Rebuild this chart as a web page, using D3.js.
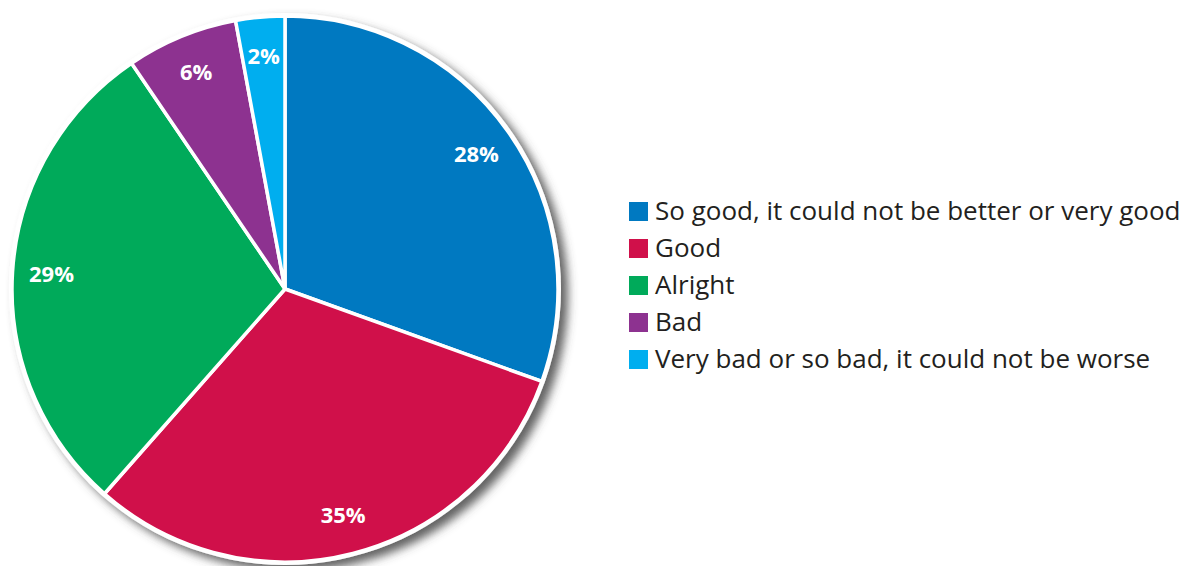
<!DOCTYPE html>
<html>
<head>
<meta charset="utf-8">
<script src="https://cdn.jsdelivr.net/npm/d3@7"></script>
<style>
    body { margin: 0; background: #fff; }
    .slice_label { font-family: "Open Sans", sans-serif; font-weight: bold; fill: #fff; }
    .legend { font-family: "Open Sans", sans-serif; fill: #231f20; }
</style>
</head>
<body>
<div id="Chart_1"></div>
<script>
// answer categories, in drawing order (clockwise from 12 o'clock)
let categories = ["So good, it could not be better or very good", "Good", "Alright", "Bad", "Very bad or so bad, it could not be worse"];
// slice shares as drawn in the picture
let shares = [30.5, 31.0, 29.0, 6.6, 2.9];
// printed labels
let labels = ["28%", "35%", "29%", "6%", "2%"];
let colors = ["#0079c1", "#d0104a", "#00aa5a", "#8d3290", "#00aeef"];

let width = 1183, height = 566;
let cx = 285, cy = 289, radius = 274;

let svg = d3.select("#Chart_1")
    .append("svg")
    .attr("width", width)
    .attr("height", height);

let defs = svg.append("defs");
let filter = defs.append("filter")
    .attr("id", "shadow")
    .attr("x", "-20%").attr("y", "-20%")
    .attr("width", "140%").attr("height", "140%");
filter.append("feDropShadow")
    .attr("dx", 7)
    .attr("dy", 6)
    .attr("stdDeviation", 5)
    .attr("flood-color", "#4a4a4a")
    .attr("flood-opacity", 0.85);

let g = svg.append("g")
    .attr("transform", "translate(" + cx + "," + cy + ")");

// white disc carrying the shadow
g.append("circle")
    .attr("r", radius + 2)
    .attr("fill", "#fff")
    .attr("filter", "url(#shadow)");

let pie = d3.pie().sort(null).value(d => d)(shares);

let arc = d3.arc()
    .innerRadius(0)
    .outerRadius(radius - 1);

g.selectAll("path.slice")
    .data(pie)
    .enter()
    .append("path")
    .attr("class", "slice")
    .attr("d", arc)
    .attr("fill", (d, i) => colors[i])
    .attr("stroke", "#fff")
    .attr("stroke-width", 3.5)
    .attr("stroke-linejoin", "round");

let labelArc = d3.arc()
    .innerRadius(234)
    .outerRadius(234);

g.selectAll("text.slice_label")
    .data(pie)
    .enter()
    .append("text")
    .attr("class", "slice_label")
    .attr("x", d => labelArc.centroid(d)[0])
    .attr("y", d => labelArc.centroid(d)[1])
    .attr("dy", "0.35em")
    .attr("text-anchor", "middle")
    .style("font-size", "22px")
    .text((d, i) => labels[i]);

// legend
let legendY = d3.scalePoint()
    .domain(categories)
    .range([211, 359]);

let legend = svg.append("g");

legend.selectAll("rect")
    .data(categories)
    .enter()
    .append("rect")
    .attr("x", 629)
    .attr("y", d => legendY(d) - 9)
    .attr("width", 19)
    .attr("height", 19)
    .attr("fill", (d, i) => colors[i]);

legend.selectAll("text")
    .data(categories)
    .enter()
    .append("text")
    .attr("class", "legend")
    .attr("x", 655)
    .attr("y", d => legendY(d))
    .attr("dy", "0.36em")
    .style("font-size", "26px")
    .text(d => d);
</script>
</body>
</html>
